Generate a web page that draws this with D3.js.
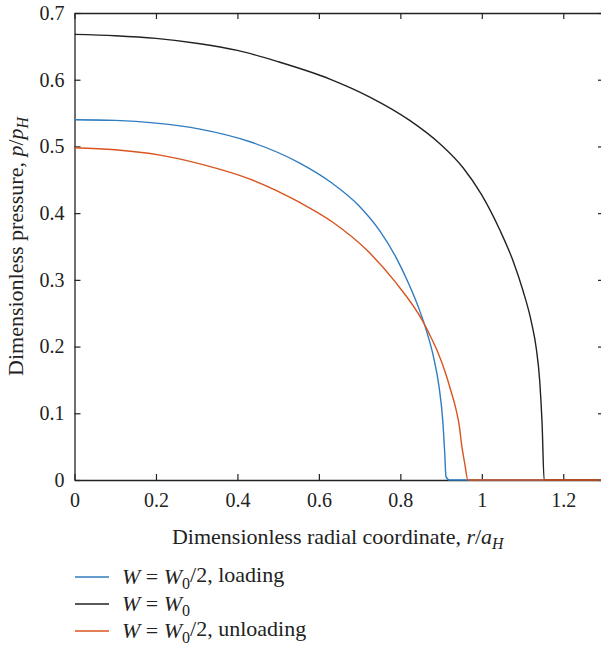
<!DOCTYPE html>
<html>
<head>
<meta charset="utf-8">
<script src="https://cdn.jsdelivr.net/npm/d3@7"></script>
<style>
body { margin: 0; background: #fff; }
svg text { font-family: "Liberation Serif", "DejaVu Serif", serif; fill: #222; }
</style>
</head>
<body>
<div id="chart"></div>
<script>
// values
const loadingX = [0, 0.1, 0.2, 0.308, 0.431, 0.553, 0.63, 0.70, 0.75, 0.79, 0.82, 0.845, 0.865, 0.882, 0.895, 0.904, 0.909, 0.912, 0.92, 1.3];
const loadingP = [0.540, 0.539, 0.535, 0.526, 0.507, 0.475, 0.446, 0.410, 0.373, 0.333, 0.295, 0.258, 0.222, 0.183, 0.14, 0.09, 0.04, 0.005, 0, 0];

const fullX = [0, 0.1, 0.2, 0.308, 0.4, 0.5, 0.627, 0.725, 0.823, 0.897, 0.954, 0.999, 1.044, 1.077, 1.101, 1.122, 1.134, 1.142, 1.148, 1.153, 1.3];
const fullP = [0.668, 0.666, 0.662, 0.654, 0.644, 0.627, 0.601, 0.574, 0.539, 0.504, 0.468, 0.428, 0.375, 0.328, 0.284, 0.236, 0.196, 0.15, 0.085, 0, 0];

const unloadingX = [0, 0.1, 0.21, 0.32, 0.431, 0.553, 0.635, 0.717, 0.786, 0.856, 0.875, 0.893, 0.91, 0.925, 0.937, 0.945, 0.950, 0.958, 0.966, 1.3];
const unloadingP = [0.498, 0.495, 0.487, 0.472, 0.451, 0.416, 0.386, 0.345, 0.298, 0.237, 0.214, 0.19, 0.162, 0.132, 0.105, 0.08, 0.055, 0.025, 0, 0];

const xTicks = [0, 0.2, 0.4, 0.6, 0.8, 1, 1.2];
const yTicks = [0, 0.1, 0.2, 0.3, 0.4, 0.5, 0.6, 0.7];

const width = 601, height = 646;
const margin = { top: 13, left: 74.5, right: -3, bottom: 166 };

const series = [
  { x: loadingX, p: loadingP, color: "#2f7cc0", label: [["W", "i"], [" = ", ""], ["W", "i"], ["0", "sub"], ["/2, loading", ""]] },
  { x: fullX, p: fullP, color: "#222222", label: [["W", "i"], [" = ", ""], ["W", "i"], ["0", "sub"]] },
  { x: unloadingX, p: unloadingP, color: "#d9541e", label: [["W", "i"], [" = ", ""], ["W", "i"], ["0", "sub"], ["/2, unloading", ""]] }
];

const svg = d3.select("#chart").append("svg")
  .attr("width", width)
  .attr("height", height);

const xScale = d3.scaleLinear()
  .domain([0, 1.3])
  .range([margin.left, width - margin.right]);

const yScale = d3.scaleLinear()
  .domain([0, 0.7])
  .range([height - margin.bottom, margin.top]);

const fmt = d => d === 0 ? "0" : d3.format("~g")(d);

// axes, ticks inside on all sides
const x0 = xScale.range()[0], x1 = xScale.range()[1];
const y0 = yScale.range()[0], y1 = yScale.range()[1];

const axisB = d3.axisBottom(xScale).tickValues(xTicks).tickSizeInner(-6).tickSizeOuter(0).tickPadding(10).tickFormat(fmt);
const axisT = d3.axisTop(xScale).tickValues(xTicks).tickSizeInner(-6).tickSizeOuter(0).tickFormat("");
const axisL = d3.axisLeft(yScale).tickValues(yTicks).tickSizeInner(-6).tickSizeOuter(0).tickPadding(10).tickFormat(fmt);
const axisR = d3.axisRight(yScale).tickValues(yTicks).tickSizeInner(-6).tickSizeOuter(0).tickFormat("");

function styleAxis(g) {
  g.select(".domain").attr("stroke", "#222").attr("stroke-width", 1.3);
  g.selectAll(".tick line").attr("stroke", "#222").attr("stroke-width", 1.2);
  g.selectAll(".tick text").style("font-size", "20px").attr("fill", "#222")
    .style("font-family", "'Liberation Serif', serif");
}

svg.append("g").attr("transform", `translate(0,${y0})`).call(axisB).call(styleAxis)
  .selectAll(".tick text").attr("dy", "0.85em");
svg.append("g").attr("transform", `translate(0,${y1})`).call(axisT).call(styleAxis);
svg.append("g").attr("transform", `translate(${x0},0)`).call(axisL).call(styleAxis)
  .selectAll(".tick text").attr("dy", "0.32em");
svg.append("g").attr("transform", `translate(${x1},0)`).call(axisR).call(styleAxis);

// curves
const line = d3.line()
  .curve(d3.curveMonotoneX)
  .x(d => xScale(d[0]))
  .y(d => yScale(d[1]));

svg.append("clipPath").attr("id", "plot-clip")
  .append("rect")
  .attr("x", x0).attr("y", y1 - 2)
  .attr("width", x1 - x0).attr("height", y0 - y1 + 4);

const plot = svg.append("g").attr("clip-path", "url(#plot-clip)");
series.forEach(s => {
  plot.append("path")
    .datum(d3.zip(s.x, s.p))
    .attr("fill", "none")
    .attr("stroke", s.color)
    .attr("stroke-width", 1.4)
    .attr("d", line);
});

// axis titles
function richText(sel, parts, size) {
  parts.forEach(([t, kind]) => {
    const ts = sel.append("tspan").text(t);
    if (kind === "i") ts.style("font-style", "italic");
    if (kind === "isub") ts.style("font-size", (size * 0.72) + "px").style("font-style", "italic").attr("dy", "0.3em");
  });
}

const xTitle = svg.append("text")
  .attr("x", (x0 + 601) / 2)
  .attr("y", 544)
  .attr("text-anchor", "middle")
  .style("font-size", "22px");
richText(xTitle, [["Dimensionless radial coordinate, ", ""], ["r", "i"], ["/", ""], ["a", "i"], ["H", "isub"]], 22);

const yTitle = svg.append("text")
  .attr("transform", `translate(23,${(y0 + y1) / 2}) rotate(-90)`)
  .attr("text-anchor", "middle")
  .style("font-size", "22px");
richText(yTitle, [["Dimensionless pressure, ", ""], ["p", "i"], ["/", ""], ["p", "i"], ["H", "isub"]], 22);

// legend
const legend = svg.append("g");
series.forEach((s, i) => {
  const ly = 577 + i * 27;
  legend.append("line")
    .attr("x1", 75).attr("x2", 109)
    .attr("y1", ly).attr("y2", ly)
    .attr("stroke", s.color)
    .attr("stroke-width", 1.4);
  const t = legend.append("text")
    .attr("x", 122).attr("y", ly + 7)
    .style("font-size", "22px");
  let afterSub = false;
  s.label.forEach(([txt, kind]) => {
    const ts = t.append("tspan").text(txt);
    if (kind === "i") ts.style("font-style", "italic");
    if (kind === "sub") ts.style("font-size", "16px").attr("dy", "0.3em");
    else if (afterSub) ts.attr("dy", "-0.3em");
    afterSub = kind === "sub";
  });
});
</script>
</body>
</html>
